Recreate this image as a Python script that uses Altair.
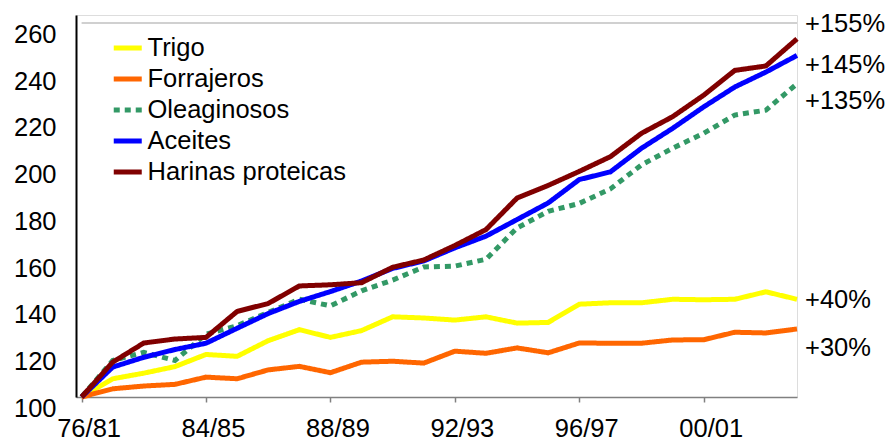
import altair as alt
import pandas as pd

periods = ["76/81", "81/82", "82/83", "83/84", "84/85", "85/86", "86/87", "87/88",
           "88/89", "89/90", "90/91", "91/92", "92/93", "93/94", "94/95", "95/96",
           "96/97", "97/98", "98/99", "99/00", "00/01", "01/02", "02/03", "03/04"]

trigo = [100, 107.8, 110.2, 113.0, 118.2, 117.4, 124.1, 128.8, 125.5, 128.4, 134.3, 133.8,
         132.9, 134.3, 131.6, 131.9, 139.7, 140.3, 140.3, 141.8, 141.6, 141.8, 145.0, 141.8]
forrajeros = [100, 103.5, 104.7, 105.4, 108.5, 107.8, 111.6, 113.1, 110.4, 114.9, 115.3, 114.5,
              119.6, 118.7, 121.0, 118.9, 123.1, 123.0, 123.0, 124.4, 124.5, 127.7, 127.4, 129.1]
oleaginosos = [100, 115.6, 119.1, 115.6, 126.9, 130.5, 136.2, 141.8, 139.0, 145.4, 150.0, 155.6,
               156.0, 158.9, 172.3, 179.4, 182.8, 189.0, 199.3, 206.4, 212.8, 220.6, 222.7, 234.0]
aceites = [100, 112.8, 117.0, 120.3, 123.0, 129.4, 135.7, 140.9, 145.1, 149.6, 155.0, 158.2,
           163.8, 168.8, 175.9, 183.0, 193.0, 196.3, 206.4, 214.9, 224.1, 232.6, 239.0, 246.1]
harinas = [100, 114.9, 123.1, 124.8, 125.5, 136.6, 140.0, 147.5, 148.0, 148.9, 155.5, 158.6,
           164.8, 171.6, 185.1, 190.5, 196.5, 202.8, 212.8, 219.9, 229.1, 239.7, 241.6, 253.2]

series_names = ["Trigo", "Forrajeros", "Oleaginosos", "Aceites", "Harinas proteicas"]
series_values = [trigo, forrajeros, oleaginosos, aceites, harinas]
colors = ["#FFFF00", "#FF6600", "#339966", "#0000FF", "#800000"]
dashes = [[1, 0], [1, 0], [6, 5], [1, 0], [1, 0]]

y_ticks = [100, 120, 140, 160, 180, 200, 220, 240, 260]
x_tick_idx = [0, 4, 8, 12, 16, 20]

end_labels = ["+155%", "+145%", "+135%", "+40%", "+30%"]
end_label_y = [259.7, 241.9, 226.7, 141.6, 121.0]

FONT = "Liberation Sans"
FS = 25.5

rows = []
for name, vals in zip(series_names, series_values):
    for i, (p, v) in enumerate(zip(periods, vals)):
        rows.append({"series": name, "idx": i, "period": p, "value": v})
df = pd.DataFrame(rows)

last_idx = len(periods) - 1
label_array = "[" + ",".join(f"'{p}'" for p in periods) + "]"

x_scale = alt.Scale(domain=[-0.18, last_idx], nice=False, zero=False)
y_scale = alt.Scale(domain=[100, 263.4], nice=False, zero=False)

legend = alt.Legend(
    title=None, orient="none", legendX=39, legendY=20.2,
    symbolType="M-1.4,0H1.4", symbolSize=400, symbolStrokeWidth=5,
    labelFontSize=FS, labelFont=FONT, labelColor="black", labelOffset=7,
    rowPadding=4, padding=0, labelLimit=400,
)

x_axis = alt.Axis(
    values=x_tick_idx, labelExpr=f"{label_array}[datum.value]", title=None, grid=False,
    labelFontSize=FS, labelFont=FONT, labelColor="black", labelFlush=False,
    labelOverlap=False, labelPadding=14, labelOffset=7, tickSize=5, tickColor="#808080",
    tickWidth=1.5, domainColor="#808080", domainWidth=1.5,
)
y_axis = alt.Axis(
    values=y_ticks, title=None, grid=False, ticks=False, tickSize=0,
    labelFontSize=FS, labelFont=FONT, labelColor="black", labelPadding=20,
    labelOffset=11.5, labelBaseline="middle", labelOverlap=False,
    domainColor="black", domainWidth=2,
)

grid = alt.Chart(pd.DataFrame({"y": [y_ticks[-1]], "x": [0], "x2": [last_idx]})).mark_rule(
    color="#C0C0C0", strokeWidth=1.5
).encode(
    x=alt.X("x:Q", scale=x_scale, axis=x_axis),
    x2="x2:Q",
    y=alt.Y("y:Q", scale=y_scale, axis=y_axis),
)

lines = alt.Chart(df).mark_line(strokeWidth=5).encode(
    x=alt.X("idx:Q", scale=x_scale, axis=x_axis),
    y=alt.Y("value:Q", scale=y_scale, axis=y_axis),
    color=alt.Color("series:N", scale=alt.Scale(domain=series_names, range=colors), legend=legend),
    strokeDash=alt.StrokeDash("series:N", scale=alt.Scale(domain=series_names, range=dashes), legend=legend),
    detail="series:N",
)

labels = alt.Chart(pd.DataFrame({"x": [last_idx] * len(end_labels), "y": end_label_y, "t": end_labels})).mark_text(
    align="left", baseline="middle", dx=8, fontSize=FS, font=FONT, color="black"
).encode(
    x=alt.X("x:Q", scale=x_scale),
    y=alt.Y("y:Q", scale=y_scale),
    text="t:N",
)

chart = alt.layer(grid, lines, labels).properties(
    width=721, height=382,
    padding={"left": 68, "top": 7, "right": 88, "bottom": 40},
    autosize=alt.AutoSizeParams(type="none"),
).configure_view(stroke=None).configure(font=FONT)

chart.save("out.html", embed_options={"renderer": "svg", "actions": False})
